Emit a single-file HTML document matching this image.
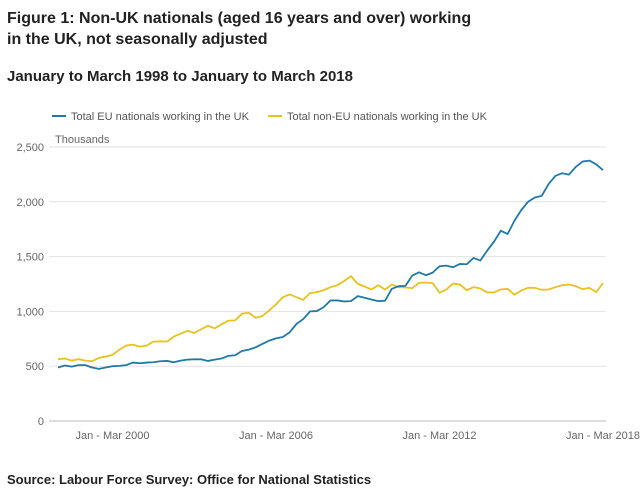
<!DOCTYPE html>
<html><head><meta charset="utf-8"><style>
body{margin:0;background:#fff;font-family:"Liberation Sans",sans-serif;}
.wrap{position:relative;width:640px;height:495px;overflow:hidden;}
.t{position:absolute;white-space:nowrap;}
</style></head><body><div class="wrap">
<div class="t" style="left:7px;top:8px;font-size:16px;font-weight:bold;color:#222;line-height:21px">Figure 1: Non-UK nationals (aged 16 years and over) working<br>in the UK, not seasonally adjusted</div>
<div class="t" style="left:7px;top:68px;font-size:15px;font-weight:bold;color:#222">January to March 1998 to January to March 2018</div>
<div class="t" style="left:7px;top:472px;font-size:13px;font-weight:bold;color:#222">Source: Labour Force Survey: Office for National Statistics</div>
<svg id="c" width="640" height="495" style="position:absolute;left:0;top:0"></svg>
</div>
<script>
const yTicks=[0,500,1000,1500,2000,2500];
const yTickLabels=["0","500","1,000","1,500","2,000","2,500"];
const xTickIdx=[8,32,56,80];
const xTickLabels=["Jan - Mar 2000","Jan - Mar 2006","Jan - Mar 2012","Jan - Mar 2018"];
const euValues=[488,506,496,510,510,488,476,488,500,503,510,533,527,533,536,545,548,536,551,560,563,563,548,560,570,594,600,639,651,672,703,733,754,766,809,885,930,1000,1003,1039,1100,1100,1091,1094,1139,1124,1109,1094,1097,1206,1230,1233,1327,1357,1330,1354,1412,1418,1403,1433,1430,1488,1464,1555,1636,1736,1706,1827,1924,2000,2039,2054,2161,2236,2261,2248,2318,2367,2376,2342,2288];
const nonEuValues=[564,570,551,564,551,545,576,588,603,651,688,697,679,688,724,727,724,770,797,824,803,836,870,845,882,915,918,979,988,942,957,1009,1064,1130,1155,1130,1106,1167,1176,1194,1221,1239,1276,1322,1251,1227,1200,1239,1200,1245,1221,1218,1212,1260,1264,1258,1170,1200,1254,1245,1194,1221,1209,1173,1173,1200,1206,1152,1191,1215,1215,1197,1200,1221,1239,1245,1230,1203,1215,1176,1258];
const NS="http://www.w3.org/2000/svg";
const svg=document.getElementById('c');
const X=i=>58+i*(545/80);
const Y=v=>421-v*0.1096;
function mk(t,a,txt){const e=document.createElementNS(NS,t);for(const k in a)e.setAttribute(k,a[k]);if(txt!==undefined)e.textContent=txt;svg.appendChild(e);return e;}
yTicks.forEach((v,i)=>{
 const g=mk('line',{x1:49,x2:606,y1:Y(v),y2:Y(v),stroke:v===0?'#bbb':'#e2e2e2','stroke-width':1});
 
 
 const t=mk('text',{x:44,y:Y(v)+4,'text-anchor':'end','font-size':11,fill:'#666','font-family':'Liberation Sans, sans-serif'},yTickLabels[i]);
 
 
});
xTickIdx.forEach((q,i)=>{
 const t=mk('text',{x:X(q),y:439,'text-anchor':'middle','font-size':11,fill:'#666','font-family':'Liberation Sans, sans-serif'},xTickLabels[i]);
 
 
});
const un=mk('text',{x:55,y:143,'font-size':11,fill:'#666','font-family':'Liberation Sans, sans-serif'},'Thousands');


function line(vals,col,name){
 const p=mk('polyline',{points:vals.map((v,i)=>X(i)+','+Y(v)).join(' '),fill:'none',stroke:col,'stroke-width':1.8,'stroke-linejoin':'round'});
 
 
}
line(nonEuValues,'#e8c21e','non-eu-series-line');
line(euValues,'#1f7aa8','eu-series-line');
const leg=[[52,'#1f7aa8','Total EU nationals working in the UK'],[268,'#e8c21e','Total non-EU nationals working in the UK']];
leg.forEach(l=>{
 const s=mk('line',{x1:l[0],x2:l[0]+14,y1:116,y2:116,stroke:l[1],'stroke-width':2});
 
 
 const t=mk('text',{x:l[0]+19,y:120,'font-size':11,fill:'#555','font-family':'Liberation Sans, sans-serif'},l[2]);
 
 
});
</script>
</body></html>
